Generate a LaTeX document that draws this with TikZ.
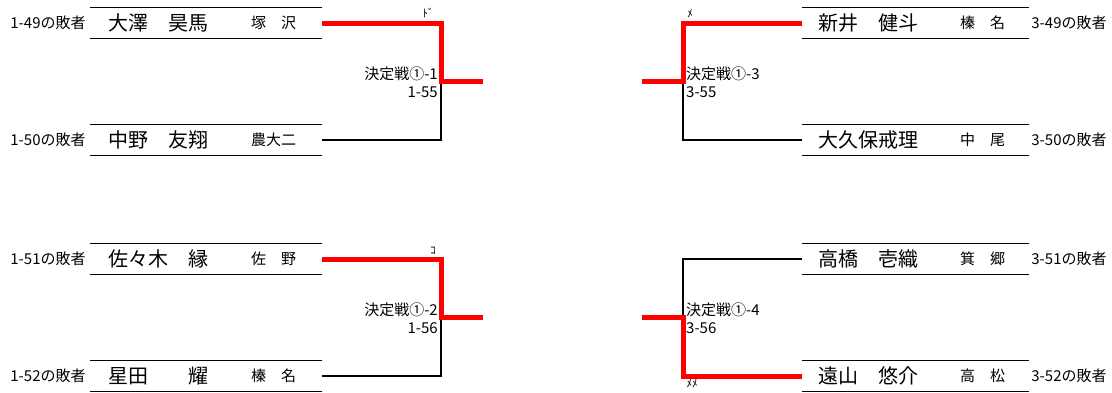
\documentclass[tikz,border=0pt]{standalone}
\usepackage{fontspec}
\setmainfont{Noto Sans CJK JP}
\usetikzlibrary{positioning, calc}

\tikzstyle{entry} = [rectangle, minimum height=30pt, inner sep=0pt]
\tikzstyle{entry line} = [line width=1.3pt, black]
\tikzstyle{player} = [inner sep=0pt, font=\fontsize{20}{22}\selectfont]
\tikzstyle{school} = [inner sep=0pt, font=\fontsize{15}{17}\selectfont]
\tikzstyle{loser} = [inner sep=0pt, font=\fontsize{15}{17}\selectfont]
\tikzstyle{match label} = [inner sep=0pt, font=\fontsize{15}{18.5}\selectfont]
\tikzstyle{score mark} = [inner sep=0pt, font=\fontsize{11}{12}\selectfont]
\tikzstyle{win} = [line width=5pt, red]
\tikzstyle{lose} = [line width=1.3pt, black]

\begin{document}
\begin{tikzpicture}[x=1pt,y=-1pt]
  \useasboundingbox (0,0) rectangle (1112,392);
  %Entries, left side
  \node[entry,minimum width=232pt] (p1) at (206,23) {};
  \node[entry,minimum width=232pt] (p2) at (206,140) {};
  \node[entry,minimum width=232pt] (p3) at (206,259) {};
  \node[entry,minimum width=232pt] (p4) at (206,376) {};
  %Entries, right side
  \node[entry,minimum width=227pt] (q1) at (915.5,23) {};
  \node[entry,minimum width=227pt] (q2) at (915.5,140) {};
  \node[entry,minimum width=227pt] (q3) at (915.5,259) {};
  \node[entry,minimum width=227pt] (q4) at (915.5,376) {};
  \foreach \e in {p1,p2,p3,p4,q1,q2,q3,q4}
    \draw[entry line] (\e.north west) -- (\e.north east) (\e.south west) -- (\e.south east);

  %Texts, left side
  \node[loser,anchor=east] (l1) at ([xshift=-4pt]p1.west) {1-49の敗者};
  \node[player,anchor=west] (n1) at ([xshift=18pt]p1.west) {大澤　昊馬};
  \node[school,anchor=west] (s1) at ([xshift=161pt]p1.west) {塚　沢};
  \node[loser,anchor=east] (l2) at ([xshift=-4pt]p2.west) {1-50の敗者};
  \node[player,anchor=west] (n2) at ([xshift=18pt]p2.west) {中野　友翔};
  \node[school,anchor=west] (s2) at ([xshift=161pt]p2.west) {農大二};
  \node[loser,anchor=east] (l3) at ([xshift=-4pt]p3.west) {1-51の敗者};
  \node[player,anchor=west] (n3) at ([xshift=18pt]p3.west) {佐々木　縁};
  \node[school,anchor=west] (s3) at ([xshift=161pt]p3.west) {佐　野};
  \node[loser,anchor=east] (l4) at ([xshift=-4pt]p4.west) {1-52の敗者};
  \node[player,anchor=west] (n4) at ([xshift=18pt]p4.west) {星田　　耀};
  \node[school,anchor=west] (s4) at ([xshift=161pt]p4.west) {榛　名};

  %Texts, right side
  \node[player,anchor=west] (r1) at ([xshift=16pt]q1.west) {新井　健斗};
  \node[school,anchor=west] (t1) at ([xshift=158pt]q1.west) {榛　名};
  \node[loser,anchor=west] (k1) at ([xshift=2pt]q1.east) {3-49の敗者};
  \node[player,anchor=west] (r2) at ([xshift=16pt]q2.west) {大久保戒理};
  \node[school,anchor=west] (t2) at ([xshift=158pt]q2.west) {中　尾};
  \node[loser,anchor=west] (k2) at ([xshift=2pt]q2.east) {3-50の敗者};
  \node[player,anchor=west] (r3) at ([xshift=16pt]q3.west) {高橋　壱織};
  \node[school,anchor=west] (t3) at ([xshift=158pt]q3.west) {箕　郷};
  \node[loser,anchor=west] (k3) at ([xshift=2pt]q3.east) {3-51の敗者};
  \node[player,anchor=west] (r4) at ([xshift=16pt]q4.west) {遠山　悠介};
  \node[school,anchor=west] (t4) at ([xshift=158pt]q4.west) {高　松};
  \node[loser,anchor=west] (k4) at ([xshift=2pt]q4.east) {3-52の敗者};

  %Brackets
  \coordinate (m1) at (441,81.5);
  \coordinate (f1) at (483,81.5);
  \coordinate (m2) at (441,317.5);
  \coordinate (f2) at (483,317.5);
  \coordinate (m3) at (683,81.5);
  \coordinate (f3) at (642,81.5);
  \coordinate (m4) at (683,317.5);
  \coordinate (f4) at (642,317.5);

  \draw[lose] (p2.east) -| (m1);
  \draw[win] (p1.east) -| (m1) -- (f1);
  \draw[lose] (p4.east) -| (m2);
  \draw[win] (p3.east) -| (m2) -- (f2);
  \draw[lose] (q2.west) -| (m3);
  \draw[win] (q1.west) -| (m3) -- (f3);
  \draw[lose] (q3.west) -| (m4);
  \draw[win] (q4.west) -| (m4) -- (f4);

  %Match labels
  \node[match label,align=right,anchor=east] (d1) at ([xshift=-3pt,yshift=-0.5pt]m1) {決定戦①-1\\1-55};
  \node[match label,align=right,anchor=east] (d2) at ([xshift=-3pt,yshift=-0.5pt]m2) {決定戦①-2\\1-56};
  \node[match label,align=left,anchor=west] (d3) at ([xshift=3pt,yshift=-0.5pt]m3) {決定戦①-3\\3-55};
  \node[match label,align=left,anchor=west] (d4) at ([xshift=3pt,yshift=-0.5pt]m4) {決定戦①-4\\3-56};

  %Score marks
  \node[score mark] (c1) at (428,13) {ﾄﾞ};
  \node[score mark] (c2) at (433,251) {ｺ};
  \node[score mark] (c3) at (690,14) {ﾒ};
  \node[score mark] (c4) at (692,384) {ﾒﾒ};
\end{tikzpicture}
\end{document}
